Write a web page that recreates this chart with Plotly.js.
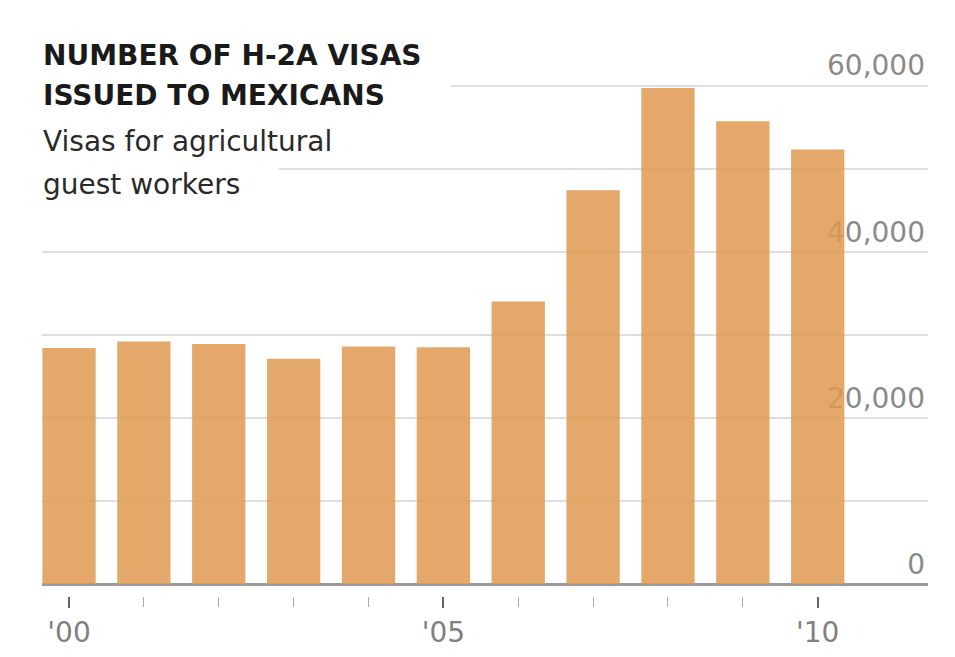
<!DOCTYPE html>
<html>
<head>
<meta charset="utf-8">
<script src="https://cdn.plot.ly/plotly-3.0.1.min.js"></script>
<style>html,body{margin:0;padding:0;background:#fff;}#chart{width:955px;height:657px;}</style>
</head>
<body>
<div id="chart"></div>
<script>
const years = [2000, 2001, 2002, 2003, 2004, 2005, 2006, 2007, 2008, 2009, 2010];
const visas = [28400, 29200, 28900, 27100, 28600, 28500, 34000, 47400, 59700, 55700, 52300];
const xTickVals = [2000, 2005, 2010];
const xTickText = ["'00", "'05", "'10"];
const yTickVals = [0, 20000, 40000, 60000];
const yTickText = ["0", "20,000", "40,000", "60,000"];
const titleLines = ["NUMBER OF H-2A VISAS", "ISSUED TO MEXICANS"];
const subtitleLines = ["Visas for agricultural", "guest workers"];

const font = "DejaVu Sans, Verdana, sans-serif";

const trace = {
  type: 'bar',
  x: years,
  y: visas,
  marker: {color: 'rgba(222,154,82,0.86)', line: {width: 0}},
  hoverinfo: 'x+y'
};

function ann(text, y, size, bold, color) {
  return {
    xref: 'paper', yref: 'paper', x: 0, y: y, xanchor: 'left', yanchor: 'middle',
    xshift: -6, showarrow: false, bgcolor: '#ffffff', borderpad: 6,
    text: bold ? '<b>' + text + '</b>' : text,
    font: {family: font, size: size, color: color}
  };
}

// white panel behind the title block, hiding the grid there
function mask(x1, yCenter) {
  return {
    type: 'rect', layer: 'above', xref: 'x', yref: 'y',
    x0: 1999.5, x1: x1, y0: yCenter - 800, y1: yCenter + 800,
    fillcolor: '#ffffff', line: {width: 0}
  };
}

const layout = {
  width: 955, height: 657,
  margin: {l: 42, r: 27, t: 44, b: 61},
  paper_bgcolor: '#ffffff', plot_bgcolor: '#ffffff',
  showlegend: false,
  bargap: 0.288,
  xaxis: {
    range: [1999.639, 2011.473],
    anchor: 'free', position: 0,
    showgrid: false, zeroline: false, showline: false,
    tickvals: xTickVals, ticktext: xTickText,
    ticks: 'outside', ticklen: 11, tickwidth: 2, tickcolor: '#666',
    minor: {tick0: 2000, dtick: 1, ticks: 'outside', ticklen: 10, tickwidth: 1, tickcolor: '#aaa', showgrid: false},
    tickfont: {family: font, size: 28, color: '#808080'},
    fixedrange: true
  },
  yaxis: {
    domain: [0.0217, 1],
    range: [0, 65000],
    side: 'right',
    ticklabelposition: 'inside',
    ticklabelshift: -20,
    tickvals: yTickVals, ticktext: yTickText,
    ticks: '',
    showgrid: true, gridcolor: '#dedede', gridwidth: 2,
    minor: {dtick: 10000, showgrid: true, gridcolor: '#dedede', gridwidth: 2},
    zeroline: true, zerolinecolor: '#9a9a9a', zerolinewidth: 3,
    showline: false,
    layer: 'below traces',
    tickfont: {family: font, size: 28, color: '#8a8a8a'},
    fixedrange: true
  },
  shapes: [mask(2005.1, 60000), mask(2002.8, 50000)],
  annotations: [
    ann(titleLines[0], 0.980, 28, true, '#1a1a1a'),
    ann(titleLines[1], 0.9067, 28, true, '#1a1a1a'),
    ann(subtitleLines[0], 0.8225, 28, false, '#2a2a2a'),
    ann(subtitleLines[1], 0.7446, 28, false, '#2a2a2a')
  ]
};

Plotly.newPlot('chart', [trace], layout, {displayModeBar: false, staticPlot: true});
</script>
</body>
</html>
